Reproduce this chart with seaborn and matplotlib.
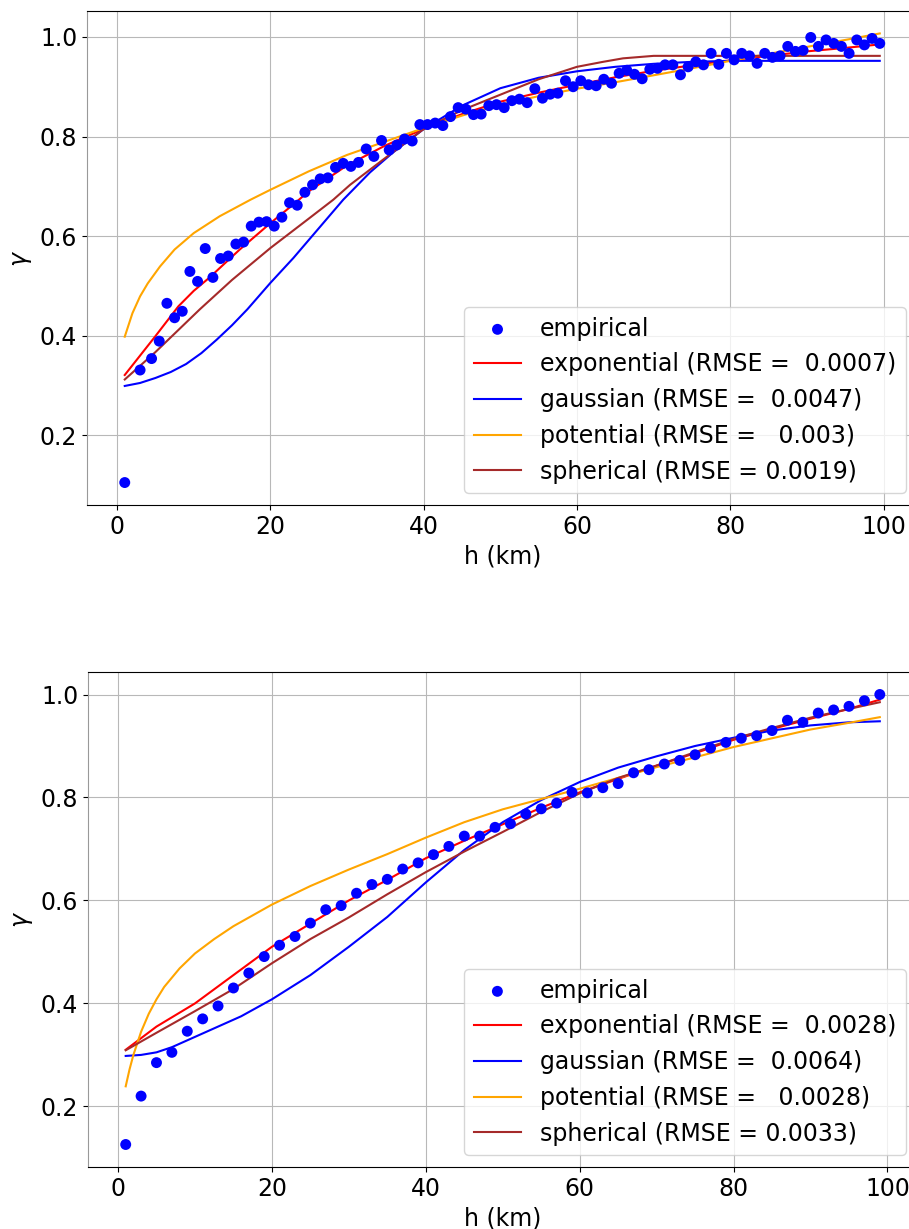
import numpy as np
import pandas as pd
import matplotlib
matplotlib.use("Agg")
import matplotlib.pyplot as plt
import seaborn as sns

# ---------------- data: top panel ----------------
top_x = [1.0, 3.0] + [v + 0.5 for v in range(4, 100)]
top_y = [0.105, 0.331, 0.354, 0.389, 0.465, 0.436, 0.449, 0.529, 0.509, 0.575,
         0.517, 0.555, 0.560, 0.584, 0.588, 0.620, 0.628, 0.629, 0.620, 0.638,
         0.667, 0.662, 0.688, 0.703, 0.715, 0.717, 0.738, 0.746, 0.740, 0.748,
         0.775, 0.760, 0.792, 0.773, 0.783, 0.795, 0.791, 0.824, 0.824, 0.827,
         0.822, 0.840, 0.858, 0.855, 0.844, 0.845, 0.862, 0.864, 0.858, 0.872,
         0.875, 0.868, 0.896, 0.877, 0.885, 0.887, 0.912, 0.900, 0.912, 0.904,
         0.902, 0.915, 0.907, 0.927, 0.933, 0.925, 0.916, 0.935, 0.937, 0.944,
         0.944, 0.924, 0.940, 0.950, 0.944, 0.967, 0.945, 0.967, 0.954, 0.967,
         0.962, 0.947, 0.967, 0.959, 0.962, 0.981, 0.971, 0.973, 0.999, 0.981,
         0.994, 0.987, 0.981, 0.967, 0.994, 0.984, 0.997, 0.987]

top_exp_x = [1, 3, 5, 8, 10, 12, 16, 20, 23.5, 25, 30, 35, 40, 45, 50, 55, 60, 65, 70, 75, 80, 85, 90, 95, 99.5]
top_exp_y = [0.321, 0.360, 0.399, 0.459, 0.490, 0.516, 0.573, 0.626, 0.670, 0.690, 0.742, 0.782, 0.815,
             0.845, 0.870, 0.888, 0.904, 0.919, 0.932, 0.943, 0.953, 0.962, 0.971, 0.978, 0.985]
top_gau_x = [1, 3, 5, 7, 9, 11, 13, 15, 17, 20, 23, 26, 29.5, 33, 36, 40, 45, 50, 55, 60, 65, 70, 75, 80, 90, 99.5]
top_gau_y = [0.299, 0.305, 0.315, 0.327, 0.343, 0.365, 0.392, 0.421, 0.453, 0.506, 0.556, 0.610, 0.673,
             0.728, 0.768, 0.815, 0.862, 0.897, 0.918, 0.931, 0.940, 0.946, 0.950, 0.952, 0.952, 0.952]
top_pot_x = [1, 2, 3, 4, 5.6, 7.5, 10, 13.4, 17.4, 20, 25, 30, 35, 40, 45, 50, 55, 60, 65, 70, 75, 80, 85, 90, 95, 99.5]
top_pot_y = [0.398, 0.445, 0.479, 0.505, 0.539, 0.573, 0.606, 0.640, 0.673, 0.693, 0.730, 0.763, 0.790,
             0.817, 0.842, 0.864, 0.881, 0.896, 0.909, 0.923, 0.937, 0.952, 0.966, 0.980, 0.994, 1.007]
top_sph_x = [1, 5, 10.8, 15, 20, 25, 28.2, 30.4, 35, 40, 45, 50, 55, 60, 63.4, 66, 70, 80, 90, 99.5]
top_sph_y = [0.312, 0.367, 0.453, 0.512, 0.576, 0.635, 0.673, 0.703, 0.757, 0.815, 0.853, 0.884,
             0.915, 0.940, 0.950, 0.957, 0.962, 0.962, 0.962, 0.962]
top_labels = ["exponential (RMSE =  0.0007)", "gaussian (RMSE =  0.0047)",
              "potential (RMSE =   0.003)", "spherical (RMSE = 0.0019)"]

# ---------------- data: bottom panel ----------------
bot_x = list(range(1, 100, 2))
bot_y = [0.126, 0.220, 0.285, 0.305, 0.346, 0.370, 0.395, 0.430, 0.459, 0.491,
         0.513, 0.530, 0.556, 0.582, 0.590, 0.614, 0.631, 0.641, 0.661, 0.673,
         0.689, 0.705, 0.725, 0.725, 0.742, 0.749, 0.768, 0.778, 0.789, 0.810,
         0.809, 0.819, 0.827, 0.848, 0.854, 0.865, 0.872, 0.883, 0.896, 0.907,
         0.915, 0.920, 0.930, 0.950, 0.946, 0.964, 0.970, 0.977, 0.988, 1.000]

bot_cx = [1, 5, 10, 15, 20, 25, 30, 35, 40, 45, 50, 55, 60, 65, 70, 75, 80, 85, 90, 95, 99]
bot_exp_y = [0.310, 0.355, 0.400, 0.455, 0.510, 0.555, 0.600, 0.640, 0.682, 0.716, 0.748, 0.780,
             0.810, 0.836, 0.862, 0.886, 0.912, 0.933, 0.953, 0.972, 0.990]
bot_sph_y = [0.309, 0.343, 0.385, 0.428, 0.478, 0.525, 0.567, 0.612, 0.655, 0.695, 0.733, 0.772,
             0.808, 0.838, 0.862, 0.888, 0.914, 0.935, 0.955, 0.972, 0.985]
bot_gau_x = [1, 3, 5, 7, 10, 13, 16, 20, 25, 30, 35, 40, 45, 50, 55, 60, 65, 70, 75, 80, 85, 90, 95, 99]
bot_gau_y = [0.298, 0.300, 0.305, 0.315, 0.335, 0.355, 0.375, 0.408, 0.455, 0.510, 0.568, 0.635,
             0.698, 0.752, 0.795, 0.830, 0.858, 0.880, 0.900, 0.916, 0.930, 0.940, 0.946, 0.948]
bot_pot_x = [1, 1.5, 2, 3, 4, 5, 6, 8, 10, 12.5, 15, 20, 25, 30, 35, 40, 45, 50, 55, 60, 65, 70, 75,
             80, 85, 90, 95, 99]
bot_pot_y = [0.239, 0.272, 0.300, 0.345, 0.380, 0.408, 0.432, 0.468, 0.497, 0.525, 0.550, 0.592,
             0.628, 0.660, 0.690, 0.722, 0.752, 0.777, 0.797, 0.817, 0.838, 0.859, 0.878, 0.898,
             0.915, 0.932, 0.945, 0.956]
bot_labels = ["exponential (RMSE =  0.0028)", "gaussian (RMSE =  0.0064)",
              "potential (RMSE =   0.0028)", "spherical (RMSE = 0.0033)"]

colors = ["red", "blue", "orange", "brown"]

FS = 17
plt.rcParams["font.size"] = FS
W, H = 909, 1229
fig = plt.figure(figsize=(W / 100, H / 100), dpi=100)
ax1 = fig.add_axes([87 / W, (H - 505) / H, 830.5 / W, 494 / H])
ax2 = fig.add_axes([88 / W, (H - 1167) / H, 829.5 / W, 495 / H])


def draw(ax, sx, sy, curves, labels):
    ax.set_axisbelow(True)
    ax.grid(True, color="#b8b8b8", linewidth=0.8)
    sns.scatterplot(x=sx, y=sy, ax=ax, color="blue", s=62, edgecolor="none",
                    label="empirical", zorder=3)
    for (cx, cy), lab, col in zip(curves, labels, colors):
        sns.lineplot(x=cx, y=cy, ax=ax, color=col, linewidth=1.5, label=lab,
                     sort=False, estimator=None, zorder=2)
    ax.set_xlabel("h (km)", fontsize=FS)
    ax.set_ylabel("$\\gamma$", fontsize=FS)
    ax.set_xticks([0, 20, 40, 60, 80, 100])
    ax.set_yticks([0.2, 0.4, 0.6, 0.8, 1.0])
    ax.tick_params(labelsize=FS)
    ax.spines["left"].set_color("#999999")
    ax.legend(loc="lower right", fontsize=FS)


draw(ax1, top_x, top_y,
     [(top_exp_x, top_exp_y), (top_gau_x, top_gau_y), (top_pot_x, top_pot_y), (top_sph_x, top_sph_y)],
     top_labels)
draw(ax2, bot_x, bot_y,
     [(bot_cx, bot_exp_y), (bot_gau_x, bot_gau_y), (bot_pot_x, bot_pot_y), (bot_cx, bot_sph_y)],
     bot_labels)

fig.savefig("out.png", dpi=100)
